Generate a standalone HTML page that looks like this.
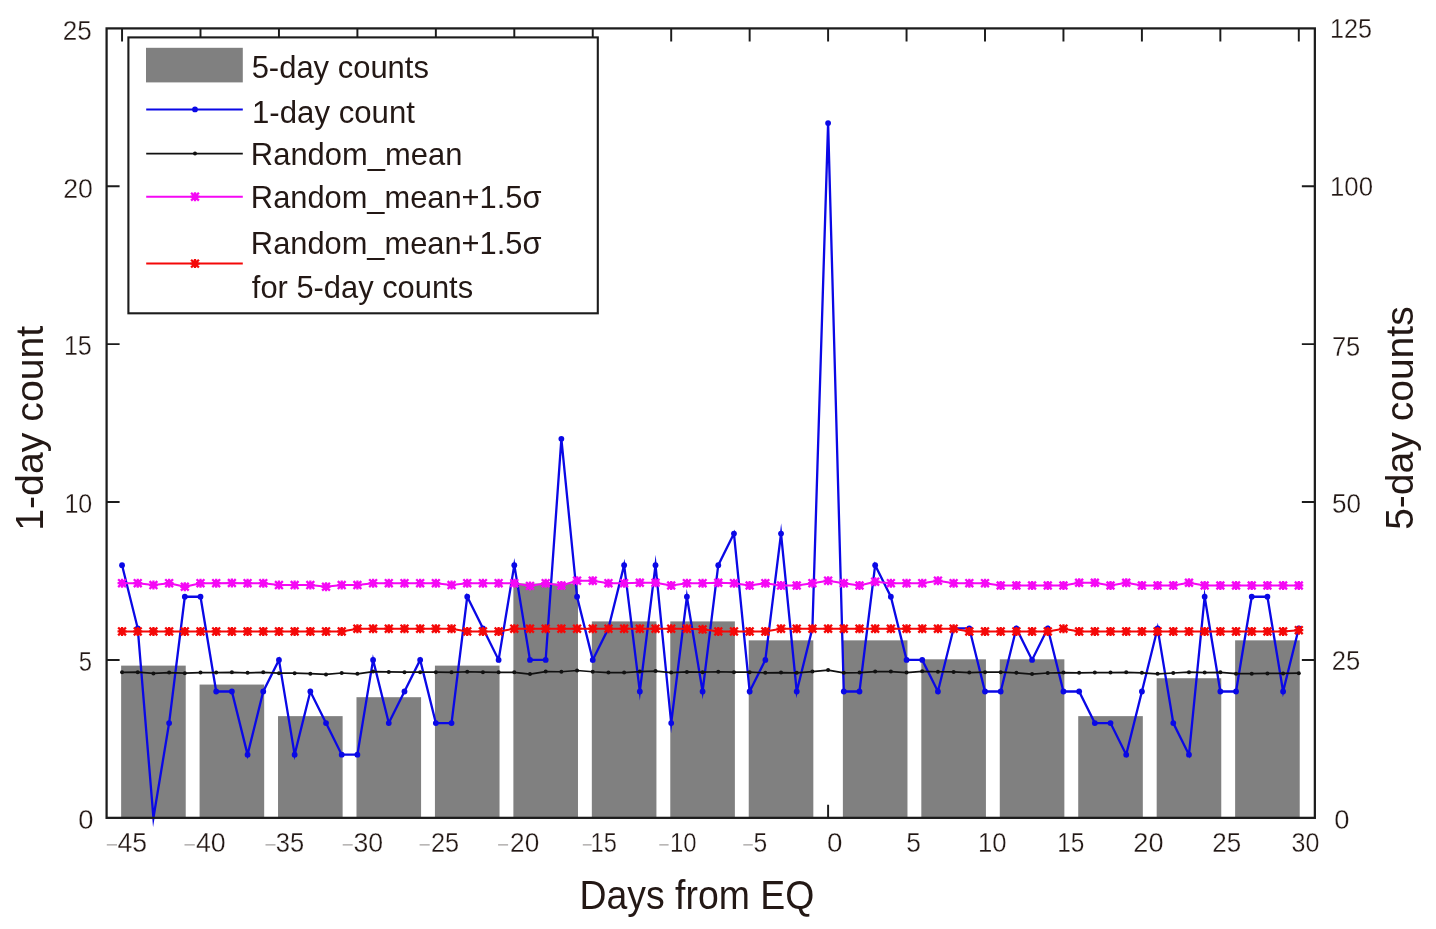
<!DOCTYPE html>
<html><head><meta charset="utf-8"><title>Chart</title>
<style>
html,body{margin:0;padding:0;background:#fff;}
body{width:1436px;height:929px;overflow:hidden;}
svg{display:block;will-change:transform;filter:blur(0.4px);}
text{font-family:"Liberation Sans",sans-serif;font-kerning:none;fill:#231815;}
.tk{stroke:#fff;stroke-width:0.3px;}
</style></head><body>
<svg width="1436" height="929" viewBox="0 0 1436 929">
<defs>
<g id="ast"><path d="M-4.5 0H4.5M0 -4.5V4.5M-3.9 -3.9L3.9 3.9M-3.9 3.9L3.9 -3.9" fill="none" stroke-width="2.3" stroke-linecap="butt"/><rect x="-3" y="-3" width="6" height="6" stroke="none"/></g>
</defs>
<rect x="0" y="0" width="1436" height="929" fill="#fff"/>
<path d="M122.05 28.4V41.4M200.5 28.4V41.4M278.95 28.4V41.4M357.4 28.4V41.4M435.85 28.4V41.4M514.3 28.4V41.4M592.75 28.4V41.4M671.2 28.4V41.4M749.65 28.4V41.4M828.1 28.4V41.4M828.1 817.85V804.85M906.55 28.4V41.4M985 28.4V41.4M1063.45 28.4V41.4M1141.9 28.4V41.4M1220.35 28.4V41.4M1298.8 28.4V41.4M106.6 659.9H119.6M1314.85 659.9H1301.85M106.6 502H119.6M1314.85 502H1301.85M106.6 344.1H119.6M1314.85 344.1H1301.85M106.6 186.2H119.6M1314.85 186.2H1301.85" stroke="#1c1c1c" stroke-width="1.95" fill="none"/>
<g fill="#808080">
<rect x="121.13" y="665.62" width="64.6" height="152.23"/>
<rect x="199.58" y="684.56" width="64.6" height="133.29"/>
<rect x="278.03" y="716.14" width="64.6" height="101.71"/>
<rect x="356.48" y="697.2" width="64.6" height="120.65"/>
<rect x="434.93" y="665.62" width="64.6" height="152.23"/>
<rect x="513.38" y="583.51" width="64.6" height="234.34"/>
<rect x="591.83" y="621.4" width="64.6" height="196.45"/>
<rect x="670.28" y="621.4" width="64.6" height="196.45"/>
<rect x="748.73" y="640.35" width="64.6" height="177.5"/>
<rect x="842.87" y="640.35" width="64.6" height="177.5"/>
<rect x="921.32" y="659.3" width="64.6" height="158.55"/>
<rect x="999.77" y="659.3" width="64.6" height="158.55"/>
<rect x="1078.22" y="716.14" width="64.6" height="101.71"/>
<rect x="1156.67" y="678.25" width="64.6" height="139.6"/>
<rect x="1235.12" y="640.35" width="64.6" height="177.5"/>
</g>
<polyline points="122.05,565.16 137.74,628.32 153.43,817.8 169.12,723.06 184.81,596.74 200.5,596.74 216.19,691.48 231.88,691.48 247.57,754.64 263.26,691.48 278.95,659.9 294.64,754.64 310.33,691.48 326.02,723.06 341.71,754.64 357.4,754.64 373.09,659.9 388.78,723.06 404.47,691.48 420.16,659.9 435.85,723.06 451.54,723.06 467.23,596.74 482.92,628.32 498.61,659.9 514.3,565.16 529.99,659.9 545.68,659.9 561.37,438.84 577.06,596.74 592.75,659.9 608.44,628.32 624.13,565.16 639.82,691.48 655.51,565.16 671.2,723.06 686.89,596.74 702.58,691.48 718.27,565.16 733.96,533.58 749.65,691.48 765.34,659.9 781.03,533.58 796.72,691.48 812.41,628.32 828.1,123.04 843.79,691.48 859.48,691.48 875.17,565.16 890.86,596.74 906.55,659.9 922.24,659.9 937.93,691.48 953.62,628.32 969.31,628.32 985,691.48 1000.69,691.48 1016.38,628.32 1032.07,659.9 1047.76,628.32 1063.45,691.48 1079.14,691.48 1094.83,723.06 1110.52,723.06 1126.21,754.64 1141.9,691.48 1157.59,628.32 1173.28,723.06 1188.97,754.64 1204.66,596.74 1220.35,691.48 1236.04,691.48 1251.73,596.74 1267.42,596.74 1283.11,691.48 1298.8,628.32" fill="none" stroke="#0a08e6" stroke-width="2.3" stroke-linejoin="miter" stroke-miterlimit="10"/>
<g fill="#0a08e6"><circle cx="122.05" cy="565.16" r="2.9"/><circle cx="137.74" cy="628.32" r="2.9"/><circle cx="169.12" cy="723.06" r="2.9"/><circle cx="184.81" cy="596.74" r="2.9"/><circle cx="200.5" cy="596.74" r="2.9"/><circle cx="216.19" cy="691.48" r="2.9"/><circle cx="231.88" cy="691.48" r="2.9"/><circle cx="247.57" cy="754.64" r="2.9"/><circle cx="263.26" cy="691.48" r="2.9"/><circle cx="278.95" cy="659.9" r="2.9"/><circle cx="294.64" cy="754.64" r="2.9"/><circle cx="310.33" cy="691.48" r="2.9"/><circle cx="326.02" cy="723.06" r="2.9"/><circle cx="341.71" cy="754.64" r="2.9"/><circle cx="357.4" cy="754.64" r="2.9"/><circle cx="373.09" cy="659.9" r="2.9"/><circle cx="388.78" cy="723.06" r="2.9"/><circle cx="404.47" cy="691.48" r="2.9"/><circle cx="420.16" cy="659.9" r="2.9"/><circle cx="435.85" cy="723.06" r="2.9"/><circle cx="451.54" cy="723.06" r="2.9"/><circle cx="467.23" cy="596.74" r="2.9"/><circle cx="482.92" cy="628.32" r="2.9"/><circle cx="498.61" cy="659.9" r="2.9"/><circle cx="514.3" cy="565.16" r="2.9"/><circle cx="529.99" cy="659.9" r="2.9"/><circle cx="545.68" cy="659.9" r="2.9"/><circle cx="561.37" cy="438.84" r="2.9"/><circle cx="577.06" cy="596.74" r="2.9"/><circle cx="592.75" cy="659.9" r="2.9"/><circle cx="608.44" cy="628.32" r="2.9"/><circle cx="624.13" cy="565.16" r="2.9"/><circle cx="639.82" cy="691.48" r="2.9"/><circle cx="655.51" cy="565.16" r="2.9"/><circle cx="671.2" cy="723.06" r="2.9"/><circle cx="686.89" cy="596.74" r="2.9"/><circle cx="702.58" cy="691.48" r="2.9"/><circle cx="718.27" cy="565.16" r="2.9"/><circle cx="733.96" cy="533.58" r="2.9"/><circle cx="749.65" cy="691.48" r="2.9"/><circle cx="765.34" cy="659.9" r="2.9"/><circle cx="781.03" cy="533.58" r="2.9"/><circle cx="796.72" cy="691.48" r="2.9"/><circle cx="812.41" cy="628.32" r="2.9"/><circle cx="828.1" cy="123.04" r="2.9"/><circle cx="843.79" cy="691.48" r="2.9"/><circle cx="859.48" cy="691.48" r="2.9"/><circle cx="875.17" cy="565.16" r="2.9"/><circle cx="890.86" cy="596.74" r="2.9"/><circle cx="906.55" cy="659.9" r="2.9"/><circle cx="922.24" cy="659.9" r="2.9"/><circle cx="937.93" cy="691.48" r="2.9"/><circle cx="953.62" cy="628.32" r="2.9"/><circle cx="969.31" cy="628.32" r="2.9"/><circle cx="985" cy="691.48" r="2.9"/><circle cx="1000.69" cy="691.48" r="2.9"/><circle cx="1016.38" cy="628.32" r="2.9"/><circle cx="1032.07" cy="659.9" r="2.9"/><circle cx="1047.76" cy="628.32" r="2.9"/><circle cx="1063.45" cy="691.48" r="2.9"/><circle cx="1079.14" cy="691.48" r="2.9"/><circle cx="1094.83" cy="723.06" r="2.9"/><circle cx="1110.52" cy="723.06" r="2.9"/><circle cx="1126.21" cy="754.64" r="2.9"/><circle cx="1141.9" cy="691.48" r="2.9"/><circle cx="1157.59" cy="628.32" r="2.9"/><circle cx="1173.28" cy="723.06" r="2.9"/><circle cx="1188.97" cy="754.64" r="2.9"/><circle cx="1204.66" cy="596.74" r="2.9"/><circle cx="1220.35" cy="691.48" r="2.9"/><circle cx="1236.04" cy="691.48" r="2.9"/><circle cx="1251.73" cy="596.74" r="2.9"/><circle cx="1267.42" cy="596.74" r="2.9"/><circle cx="1283.11" cy="691.48" r="2.9"/><circle cx="1298.8" cy="628.32" r="2.9"/></g>
<rect x="106.6" y="28.4" width="1208.25" height="789.45" fill="none" stroke="#1c1c1c" stroke-width="2.25"/>
<polyline points="122.05,672.37 137.74,672.17 153.43,673.42 169.12,672.58 184.81,673.21 200.5,672.58 216.19,672.58 231.88,672.37 247.57,672.79 263.26,672.37 278.95,673.21 294.64,673.21 310.33,673.63 326.02,674.46 341.71,673 357.4,673.84 373.09,671.54 388.78,671.96 404.47,672.17 420.16,672.17 435.85,672.17 451.54,672.37 467.23,671.75 482.92,672.17 498.61,672.37 514.3,672.37 529.99,674.05 545.68,671.54 561.37,671.75 577.06,670.49 592.75,671.75 608.44,672.58 624.13,672.58 639.82,671.54 655.51,671.12 671.2,672.58 686.89,671.96 702.58,672.17 718.27,671.75 733.96,672.17 749.65,672.17 765.34,672.79 781.03,672.58 796.72,672.79 812.41,671.54 828.1,670.08 843.79,672.79 859.48,672.58 875.17,671.54 890.86,671.54 906.55,672.58 922.24,671.33 937.93,671.75 953.62,671.96 969.31,672.58 985,672.17 1000.69,672.17 1016.38,672.79 1032.07,674.05 1047.76,673 1063.45,672.58 1079.14,672.79 1094.83,672.58 1110.52,672.58 1126.21,672.37 1141.9,672.79 1157.59,673.84 1173.28,673 1188.97,672.17 1204.66,672.58 1220.35,672.37 1236.04,673.63 1251.73,673.63 1267.42,673.42 1283.11,673.42 1298.8,673.21" fill="none" stroke="#111" stroke-width="1.7" stroke-linejoin="round"/>
<g fill="#111"><circle cx="122.05" cy="672.37" r="2"/><circle cx="137.74" cy="672.17" r="2"/><circle cx="153.43" cy="673.42" r="2"/><circle cx="169.12" cy="672.58" r="2"/><circle cx="184.81" cy="673.21" r="2"/><circle cx="200.5" cy="672.58" r="2"/><circle cx="216.19" cy="672.58" r="2"/><circle cx="231.88" cy="672.37" r="2"/><circle cx="247.57" cy="672.79" r="2"/><circle cx="263.26" cy="672.37" r="2"/><circle cx="278.95" cy="673.21" r="2"/><circle cx="294.64" cy="673.21" r="2"/><circle cx="310.33" cy="673.63" r="2"/><circle cx="326.02" cy="674.46" r="2"/><circle cx="341.71" cy="673" r="2"/><circle cx="357.4" cy="673.84" r="2"/><circle cx="373.09" cy="671.54" r="2"/><circle cx="388.78" cy="671.96" r="2"/><circle cx="404.47" cy="672.17" r="2"/><circle cx="420.16" cy="672.17" r="2"/><circle cx="435.85" cy="672.17" r="2"/><circle cx="451.54" cy="672.37" r="2"/><circle cx="467.23" cy="671.75" r="2"/><circle cx="482.92" cy="672.17" r="2"/><circle cx="498.61" cy="672.37" r="2"/><circle cx="514.3" cy="672.37" r="2"/><circle cx="529.99" cy="674.05" r="2"/><circle cx="545.68" cy="671.54" r="2"/><circle cx="561.37" cy="671.75" r="2"/><circle cx="577.06" cy="670.49" r="2"/><circle cx="592.75" cy="671.75" r="2"/><circle cx="608.44" cy="672.58" r="2"/><circle cx="624.13" cy="672.58" r="2"/><circle cx="639.82" cy="671.54" r="2"/><circle cx="655.51" cy="671.12" r="2"/><circle cx="671.2" cy="672.58" r="2"/><circle cx="686.89" cy="671.96" r="2"/><circle cx="702.58" cy="672.17" r="2"/><circle cx="718.27" cy="671.75" r="2"/><circle cx="733.96" cy="672.17" r="2"/><circle cx="749.65" cy="672.17" r="2"/><circle cx="765.34" cy="672.79" r="2"/><circle cx="781.03" cy="672.58" r="2"/><circle cx="796.72" cy="672.79" r="2"/><circle cx="812.41" cy="671.54" r="2"/><circle cx="828.1" cy="670.08" r="2"/><circle cx="843.79" cy="672.79" r="2"/><circle cx="859.48" cy="672.58" r="2"/><circle cx="875.17" cy="671.54" r="2"/><circle cx="890.86" cy="671.54" r="2"/><circle cx="906.55" cy="672.58" r="2"/><circle cx="922.24" cy="671.33" r="2"/><circle cx="937.93" cy="671.75" r="2"/><circle cx="953.62" cy="671.96" r="2"/><circle cx="969.31" cy="672.58" r="2"/><circle cx="985" cy="672.17" r="2"/><circle cx="1000.69" cy="672.17" r="2"/><circle cx="1016.38" cy="672.79" r="2"/><circle cx="1032.07" cy="674.05" r="2"/><circle cx="1047.76" cy="673" r="2"/><circle cx="1063.45" cy="672.58" r="2"/><circle cx="1079.14" cy="672.79" r="2"/><circle cx="1094.83" cy="672.58" r="2"/><circle cx="1110.52" cy="672.58" r="2"/><circle cx="1126.21" cy="672.37" r="2"/><circle cx="1141.9" cy="672.79" r="2"/><circle cx="1157.59" cy="673.84" r="2"/><circle cx="1173.28" cy="673" r="2"/><circle cx="1188.97" cy="672.17" r="2"/><circle cx="1204.66" cy="672.58" r="2"/><circle cx="1220.35" cy="672.37" r="2"/><circle cx="1236.04" cy="673.63" r="2"/><circle cx="1251.73" cy="673.63" r="2"/><circle cx="1267.42" cy="673.42" r="2"/><circle cx="1283.11" cy="673.42" r="2"/><circle cx="1298.8" cy="673.21" r="2"/></g>
<polyline points="122.05,583.17 137.74,583.17 153.43,585.05 169.12,583.17 184.81,586.73 200.5,583.17 216.19,583.17 231.88,582.97 247.57,583.17 263.26,583.17 278.95,585.05 294.64,585.05 310.33,585.05 326.02,586.73 341.71,585.05 357.4,585.05 373.09,583.17 388.78,583.17 404.47,583.17 420.16,583.17 435.85,583.17 451.54,585.05 467.23,583.17 482.92,583.17 498.61,583.17 514.3,583.17 529.99,585.89 545.68,583.17 561.37,585.47 577.06,580.67 592.75,580.67 608.44,583.17 624.13,583.17 639.82,582.76 655.51,582.76 671.2,585.47 686.89,583.17 702.58,583.17 718.27,582.76 733.96,583.17 749.65,585.47 765.34,583.17 781.03,585.47 796.72,585.47 812.41,583.17 828.1,580.67 843.79,583.17 859.48,585.47 875.17,581.71 890.86,583.17 906.55,583.17 922.24,583.17 937.93,580.67 953.62,583.17 969.31,583.17 985,583.17 1000.69,585.47 1016.38,585.47 1032.07,585.47 1047.76,585.47 1063.45,585.47 1079.14,582.76 1094.83,582.76 1110.52,585.47 1126.21,582.76 1141.9,585.47 1157.59,585.47 1173.28,585.47 1188.97,582.76 1204.66,585.47 1220.35,585.47 1236.04,585.47 1251.73,585.47 1267.42,585.47 1283.11,585.47 1298.8,585.47" fill="none" stroke="#f508f5" stroke-width="2" stroke-linejoin="round"/>
<g fill="#f508f5" stroke="#f508f5"><use href="#ast" x="122.05" y="583.17"/><use href="#ast" x="137.74" y="583.17"/><use href="#ast" x="153.43" y="585.05"/><use href="#ast" x="169.12" y="583.17"/><use href="#ast" x="184.81" y="586.73"/><use href="#ast" x="200.5" y="583.17"/><use href="#ast" x="216.19" y="583.17"/><use href="#ast" x="231.88" y="582.97"/><use href="#ast" x="247.57" y="583.17"/><use href="#ast" x="263.26" y="583.17"/><use href="#ast" x="278.95" y="585.05"/><use href="#ast" x="294.64" y="585.05"/><use href="#ast" x="310.33" y="585.05"/><use href="#ast" x="326.02" y="586.73"/><use href="#ast" x="341.71" y="585.05"/><use href="#ast" x="357.4" y="585.05"/><use href="#ast" x="373.09" y="583.17"/><use href="#ast" x="388.78" y="583.17"/><use href="#ast" x="404.47" y="583.17"/><use href="#ast" x="420.16" y="583.17"/><use href="#ast" x="435.85" y="583.17"/><use href="#ast" x="451.54" y="585.05"/><use href="#ast" x="467.23" y="583.17"/><use href="#ast" x="482.92" y="583.17"/><use href="#ast" x="498.61" y="583.17"/><use href="#ast" x="514.3" y="583.17"/><use href="#ast" x="529.99" y="585.89"/><use href="#ast" x="545.68" y="583.17"/><use href="#ast" x="561.37" y="585.47"/><use href="#ast" x="577.06" y="580.67"/><use href="#ast" x="592.75" y="580.67"/><use href="#ast" x="608.44" y="583.17"/><use href="#ast" x="624.13" y="583.17"/><use href="#ast" x="639.82" y="582.76"/><use href="#ast" x="655.51" y="582.76"/><use href="#ast" x="671.2" y="585.47"/><use href="#ast" x="686.89" y="583.17"/><use href="#ast" x="702.58" y="583.17"/><use href="#ast" x="718.27" y="582.76"/><use href="#ast" x="733.96" y="583.17"/><use href="#ast" x="749.65" y="585.47"/><use href="#ast" x="765.34" y="583.17"/><use href="#ast" x="781.03" y="585.47"/><use href="#ast" x="796.72" y="585.47"/><use href="#ast" x="812.41" y="583.17"/><use href="#ast" x="828.1" y="580.67"/><use href="#ast" x="843.79" y="583.17"/><use href="#ast" x="859.48" y="585.47"/><use href="#ast" x="875.17" y="581.71"/><use href="#ast" x="890.86" y="583.17"/><use href="#ast" x="906.55" y="583.17"/><use href="#ast" x="922.24" y="583.17"/><use href="#ast" x="937.93" y="580.67"/><use href="#ast" x="953.62" y="583.17"/><use href="#ast" x="969.31" y="583.17"/><use href="#ast" x="985" y="583.17"/><use href="#ast" x="1000.69" y="585.47"/><use href="#ast" x="1016.38" y="585.47"/><use href="#ast" x="1032.07" y="585.47"/><use href="#ast" x="1047.76" y="585.47"/><use href="#ast" x="1063.45" y="585.47"/><use href="#ast" x="1079.14" y="582.76"/><use href="#ast" x="1094.83" y="582.76"/><use href="#ast" x="1110.52" y="585.47"/><use href="#ast" x="1126.21" y="582.76"/><use href="#ast" x="1141.9" y="585.47"/><use href="#ast" x="1157.59" y="585.47"/><use href="#ast" x="1173.28" y="585.47"/><use href="#ast" x="1188.97" y="582.76"/><use href="#ast" x="1204.66" y="585.47"/><use href="#ast" x="1220.35" y="585.47"/><use href="#ast" x="1236.04" y="585.47"/><use href="#ast" x="1251.73" y="585.47"/><use href="#ast" x="1267.42" y="585.47"/><use href="#ast" x="1283.11" y="585.47"/><use href="#ast" x="1298.8" y="585.47"/></g>
<polyline points="122.05,631.43 137.74,631.43 153.43,631.43 169.12,631.43 184.81,631.43 200.5,631.43 216.19,631.43 231.88,631.43 247.57,631.43 263.26,631.43 278.95,631.43 294.64,631.43 310.33,631.43 326.02,631.43 341.71,631.43 357.4,628.71 373.09,628.71 388.78,628.71 404.47,628.71 420.16,628.71 435.85,628.71 451.54,628.71 467.23,631.43 482.92,631.43 498.61,631.43 514.3,628.71 529.99,628.71 545.68,628.71 561.37,628.71 577.06,628.71 592.75,628.71 608.44,628.71 624.13,628.71 639.82,628.71 655.51,628.71 671.2,628.71 686.89,628.71 702.58,629.34 718.27,631.43 733.96,631.43 749.65,631.43 765.34,631.43 781.03,628.71 796.72,628.71 812.41,628.71 828.1,628.71 843.79,628.71 859.48,628.71 875.17,628.71 890.86,628.71 906.55,628.71 922.24,628.71 937.93,628.71 953.62,628.71 969.31,631.43 985,631.43 1000.69,631.43 1016.38,631.43 1032.07,631.43 1047.76,631.43 1063.45,628.71 1079.14,631.43 1094.83,631.43 1110.52,631.43 1126.21,631.43 1141.9,631.43 1157.59,631.43 1173.28,631.43 1188.97,631.43 1204.66,631.43 1220.35,631.43 1236.04,631.43 1251.73,631.43 1267.42,631.43 1283.11,631.43 1298.8,630.18" fill="none" stroke="#f40808" stroke-width="2" stroke-linejoin="round"/>
<g fill="#f40808" stroke="#f40808"><use href="#ast" x="122.05" y="631.43"/><use href="#ast" x="137.74" y="631.43"/><use href="#ast" x="153.43" y="631.43"/><use href="#ast" x="169.12" y="631.43"/><use href="#ast" x="184.81" y="631.43"/><use href="#ast" x="200.5" y="631.43"/><use href="#ast" x="216.19" y="631.43"/><use href="#ast" x="231.88" y="631.43"/><use href="#ast" x="247.57" y="631.43"/><use href="#ast" x="263.26" y="631.43"/><use href="#ast" x="278.95" y="631.43"/><use href="#ast" x="294.64" y="631.43"/><use href="#ast" x="310.33" y="631.43"/><use href="#ast" x="326.02" y="631.43"/><use href="#ast" x="341.71" y="631.43"/><use href="#ast" x="357.4" y="628.71"/><use href="#ast" x="373.09" y="628.71"/><use href="#ast" x="388.78" y="628.71"/><use href="#ast" x="404.47" y="628.71"/><use href="#ast" x="420.16" y="628.71"/><use href="#ast" x="435.85" y="628.71"/><use href="#ast" x="451.54" y="628.71"/><use href="#ast" x="467.23" y="631.43"/><use href="#ast" x="482.92" y="631.43"/><use href="#ast" x="498.61" y="631.43"/><use href="#ast" x="514.3" y="628.71"/><use href="#ast" x="529.99" y="628.71"/><use href="#ast" x="545.68" y="628.71"/><use href="#ast" x="561.37" y="628.71"/><use href="#ast" x="577.06" y="628.71"/><use href="#ast" x="592.75" y="628.71"/><use href="#ast" x="608.44" y="628.71"/><use href="#ast" x="624.13" y="628.71"/><use href="#ast" x="639.82" y="628.71"/><use href="#ast" x="655.51" y="628.71"/><use href="#ast" x="671.2" y="628.71"/><use href="#ast" x="686.89" y="628.71"/><use href="#ast" x="702.58" y="629.34"/><use href="#ast" x="718.27" y="631.43"/><use href="#ast" x="733.96" y="631.43"/><use href="#ast" x="749.65" y="631.43"/><use href="#ast" x="765.34" y="631.43"/><use href="#ast" x="781.03" y="628.71"/><use href="#ast" x="796.72" y="628.71"/><use href="#ast" x="812.41" y="628.71"/><use href="#ast" x="828.1" y="628.71"/><use href="#ast" x="843.79" y="628.71"/><use href="#ast" x="859.48" y="628.71"/><use href="#ast" x="875.17" y="628.71"/><use href="#ast" x="890.86" y="628.71"/><use href="#ast" x="906.55" y="628.71"/><use href="#ast" x="922.24" y="628.71"/><use href="#ast" x="937.93" y="628.71"/><use href="#ast" x="953.62" y="628.71"/><use href="#ast" x="969.31" y="631.43"/><use href="#ast" x="985" y="631.43"/><use href="#ast" x="1000.69" y="631.43"/><use href="#ast" x="1016.38" y="631.43"/><use href="#ast" x="1032.07" y="631.43"/><use href="#ast" x="1047.76" y="631.43"/><use href="#ast" x="1063.45" y="628.71"/><use href="#ast" x="1079.14" y="631.43"/><use href="#ast" x="1094.83" y="631.43"/><use href="#ast" x="1110.52" y="631.43"/><use href="#ast" x="1126.21" y="631.43"/><use href="#ast" x="1141.9" y="631.43"/><use href="#ast" x="1157.59" y="631.43"/><use href="#ast" x="1173.28" y="631.43"/><use href="#ast" x="1188.97" y="631.43"/><use href="#ast" x="1204.66" y="631.43"/><use href="#ast" x="1220.35" y="631.43"/><use href="#ast" x="1236.04" y="631.43"/><use href="#ast" x="1251.73" y="631.43"/><use href="#ast" x="1267.42" y="631.43"/><use href="#ast" x="1283.11" y="631.43"/><use href="#ast" x="1298.8" y="630.18"/></g>
<rect x="128.4" y="37.4" width="469.4" height="275.9" fill="#fff" stroke="#1c1c1c" stroke-width="2.1"/>
<rect x="146" y="47.8" width="96.8" height="34.6" fill="#808080"/>
<path d="M146.2 109.4H242.8" stroke="#0a08e6" stroke-width="2"/><circle cx="195.0" cy="109.4" r="2.9" fill="#0a08e6"/>
<path d="M146.2 153.6H242.8" stroke="#111" stroke-width="1.7"/><circle cx="195.0" cy="153.6" r="2" fill="#111"/>
<path d="M146.2 196.7H242.8" stroke="#f508f5" stroke-width="2"/><g fill="#f508f5" stroke="#f508f5"><use href="#ast" x="195.0" y="196.7"/></g>
<path d="M146.2 263.6H242.8" stroke="#f40808" stroke-width="2"/><g fill="#f40808" stroke="#f40808"><use href="#ast" x="195.0" y="263.6"/></g>
<text transform="translate(251.66 77.7) scale(0.9861 1)" font-size="31.4">5-day counts</text>
<text transform="translate(252.03 122.7) scale(0.9930 1)" font-size="31.4">1-day count</text>
<text transform="translate(250.86 164.7) scale(0.9855 1)" font-size="31.4">Random_mean</text>
<text transform="translate(250.87 208.3) scale(0.9817 1)" font-size="31.4">Random_mean+1.5σ</text>
<text transform="translate(250.87 253.8) scale(0.9817 1)" font-size="31.4">Random_mean+1.5σ</text>
<text transform="translate(251.86 297.6) scale(0.9828 1)" font-size="31.4">for 5-day counts</text>
<text transform="translate(579.53 908.6) scale(0.9126 1)" font-size="40.99">Days from EQ</text>
<text transform="translate(43 530.79) rotate(-90) scale(0.9932 1)" font-size="39.53">1-day count</text>
<text transform="translate(1412.9 529.86) rotate(-90) scale(0.9841 1)" font-size="39.68">5-day counts</text>
<text transform="translate(62.79 39.7) scale(0.9608 1)" font-size="27.14" class="tk">25</text>
<text transform="translate(63.16 197.5) scale(0.9832 1)" font-size="27.14" class="tk">20</text>
<text transform="translate(63.88 355.3) scale(0.9265 1)" font-size="27.14" class="tk">15</text>
<text transform="translate(64.39 513.1) scale(0.9238 1)" font-size="27.14" class="tk">10</text>
<text transform="translate(78.75 671) scale(0.8781 1)" font-size="27.14" class="tk">5</text>
<text transform="translate(78.33 828.9) scale(1.0096 1)" font-size="27.14" class="tk">0</text>
<text transform="translate(1330.08 37.6) scale(0.9292 1)" font-size="27.14" class="tk">125</text>
<text transform="translate(1330.04 196) scale(0.9488 1)" font-size="27.14" class="tk">100</text>
<text transform="translate(1331.89 355.6) scale(0.9400 1)" font-size="27.14" class="tk">75</text>
<text transform="translate(1332.05 513.1) scale(0.9628 1)" font-size="27.14" class="tk">50</text>
<text transform="translate(1331.81 670.3) scale(0.9427 1)" font-size="27.14" class="tk">25</text>
<text transform="translate(1334.13 828.9) scale(1.0096 1)" font-size="27.14" class="tk">0</text>
<text transform="translate(117.39 851.6) scale(0.9814 1)" font-size="27.14" class="tk">45</text>
<text transform="translate(195.89 851.6) scale(0.9857 1)" font-size="27.14" class="tk">40</text>
<text transform="translate(275.73 851.6) scale(0.9387 1)" font-size="27.14" class="tk">35</text>
<text transform="translate(353.38 851.6) scale(0.9823 1)" font-size="27.14" class="tk">30</text>
<text transform="translate(430.93 851.6) scale(0.9319 1)" font-size="27.14" class="tk">25</text>
<text transform="translate(510.08 851.6) scale(0.9652 1)" font-size="27.14" class="tk">20</text>
<text transform="translate(590.6 851.6) scale(0.8709 1)" font-size="27.14" class="tk">15</text>
<text transform="translate(669.98 851.6) scale(0.8794 1)" font-size="27.14" class="tk">10</text>
<text transform="translate(753.61 851.6) scale(0.9092 1)" font-size="27.14" class="tk">5</text>
<text transform="translate(827.01 851.6) scale(1.0250 1)" font-size="27.14" class="tk">0</text>
<text transform="translate(906.24 851.6) scale(0.9713 1)" font-size="27.14" class="tk">5</text>
<text transform="translate(978.04 851.6) scale(0.9459 1)" font-size="27.14" class="tk">10</text>
<text transform="translate(1057.14 851.6) scale(0.9005 1)" font-size="27.14" class="tk">15</text>
<text transform="translate(1133.34 851.6) scale(0.9976 1)" font-size="27.14" class="tk">20</text>
<text transform="translate(1212.19 851.6) scale(0.9572 1)" font-size="27.14" class="tk">25</text>
<text transform="translate(1291.55 851.6) scale(0.9218 1)" font-size="27.14" class="tk">30</text>
<path d="M106.8 844.8H117M184.5 844.8H194.8M265.5 844.8H275.5M342.7 844.8H352.7M419.6 844.8H429.7M498.1 844.8H508.1M582.8 844.8H591.6M659.3 844.8H668.6M743.3 844.8H752.8" stroke="#a3a09f" stroke-width="1.3" fill="none"/>
</svg>
</body></html>
